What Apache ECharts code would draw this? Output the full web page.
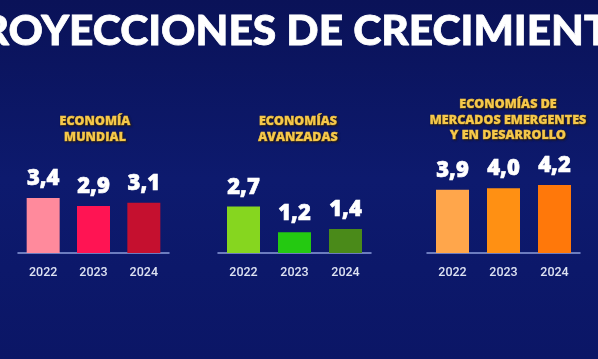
<!DOCTYPE html>
<html><head><meta charset="utf-8">
<script src="https://cdn.jsdelivr.net/npm/echarts@6/dist/echarts.min.js"></script>
<style>html,body{margin:0;padding:0;background:#0b1563;}#c{width:598px;height:359px;}</style>
</head><body><div id="c"></div>
<script>
const mainTitle = "PROYECCIONES DE CRECIMIENTO";
const years = ["2022", "2023", "2024"];
const panelTitles = ["ECONOMÍA\nMUNDIAL", "ECONOMÍAS\nAVANZADAS", "ECONOMÍAS DE\nMERCADOS EMERGENTES\nY EN DESARROLLO"];
const mundial = [3.4, 2.9, 3.1];
const avanzadas = [2.7, 1.2, 1.4];
const emergentes = [3.9, 4.0, 4.2];
const mundialColors = ["#FF8A9C", "#FF1453", "#C5102F"];
const avanzadasColors = ["#86D61F", "#24C911", "#4A8A19"];
const emergentesColors = ["#FFA64B", "#FF9013", "#FF780A"];

const panels = [
  {vals: mundial, cols: mundialColors, left: 18, width: 151, top: 172, title: panelTitles[0], tx: 90, ty: 109},
  {vals: avanzadas, cols: avanzadasColors, left: 218, width: 153, top: 167, title: panelTitles[1], tx: 293, ty: 109},
  {vals: emergentes, cols: emergentesColors, left: 427, width: 153, top: 172, title: panelTitles[2], tx: 503, ty: 92}
];

const chart = echarts.init(document.getElementById('c'));
const option = {
  backgroundColor: {
    type: 'linear', x: 0, y: 0, x2: 0, y2: 1,
    colorStops: [{offset: 0, color: '#0a1258'}, {offset: 0.5, color: '#0d1a6e'}, {offset: 1, color: '#0b1666'}]
  },
  animation: false,
  title: [{
    text: mainTitle, left: 'center', top: 5,
    textStyle: {color: '#ffffff', fontSize: 42.5, fontWeight: 900, fontFamily: 'Lato',
      textBorderColor: '#ffffff', textBorderWidth: 0.8}
  }].concat(panels.map(p => ({
    text: p.title, left: p.tx, top: p.ty, textAlign: 'center',
    textStyle: {color: '#F6C84A', fontSize: 12.5, fontWeight: 800, fontFamily: 'Open Sans', lineHeight: 15.5,
      textBorderColor: '#F6C84A', textBorderWidth: 0.6,
      textShadowColor: 'rgba(40,25,0,0.8)', textShadowBlur: 2, textShadowOffsetX: 1, textShadowOffsetY: 1}
  }))),
  grid: panels.map(p => ({left: p.left, width: p.width, top: p.top, bottom: 359 - 253})),
  xAxis: panels.map((p, i) => ({
    type: 'category', gridIndex: i, data: years,
    axisLine: {lineStyle: {color: '#8c9ddc', width: 1.5}},
    axisTick: {show: false},
    axisLabel: {color: '#dde2f2', fontSize: 12.5, fontWeight: 500, fontFamily: 'Roboto', margin: 13}
  })),
  yAxis: panels.map((p, i) => ({
    type: 'value', gridIndex: i, min: 0, max: 5, show: false, splitLine: {show: false}
  })),
  series: panels.map((p, i) => ({
    type: 'bar', xAxisIndex: i, yAxisIndex: i, barWidth: 33,
    data: p.vals.map((v, j) => ({value: v, itemStyle: {color: p.cols[j]}})),
    label: {show: true, position: 'top', distance: 8, color: '#ffffff', fontSize: 22, fontWeight: 800,
      fontFamily: 'Open Sans', textBorderColor: '#ffffff', textBorderWidth: 0.6,
      formatter: d => d.value.toFixed(1).replace('.', ',')}
  }))
};
chart.setOption(option);
</script></body></html>
